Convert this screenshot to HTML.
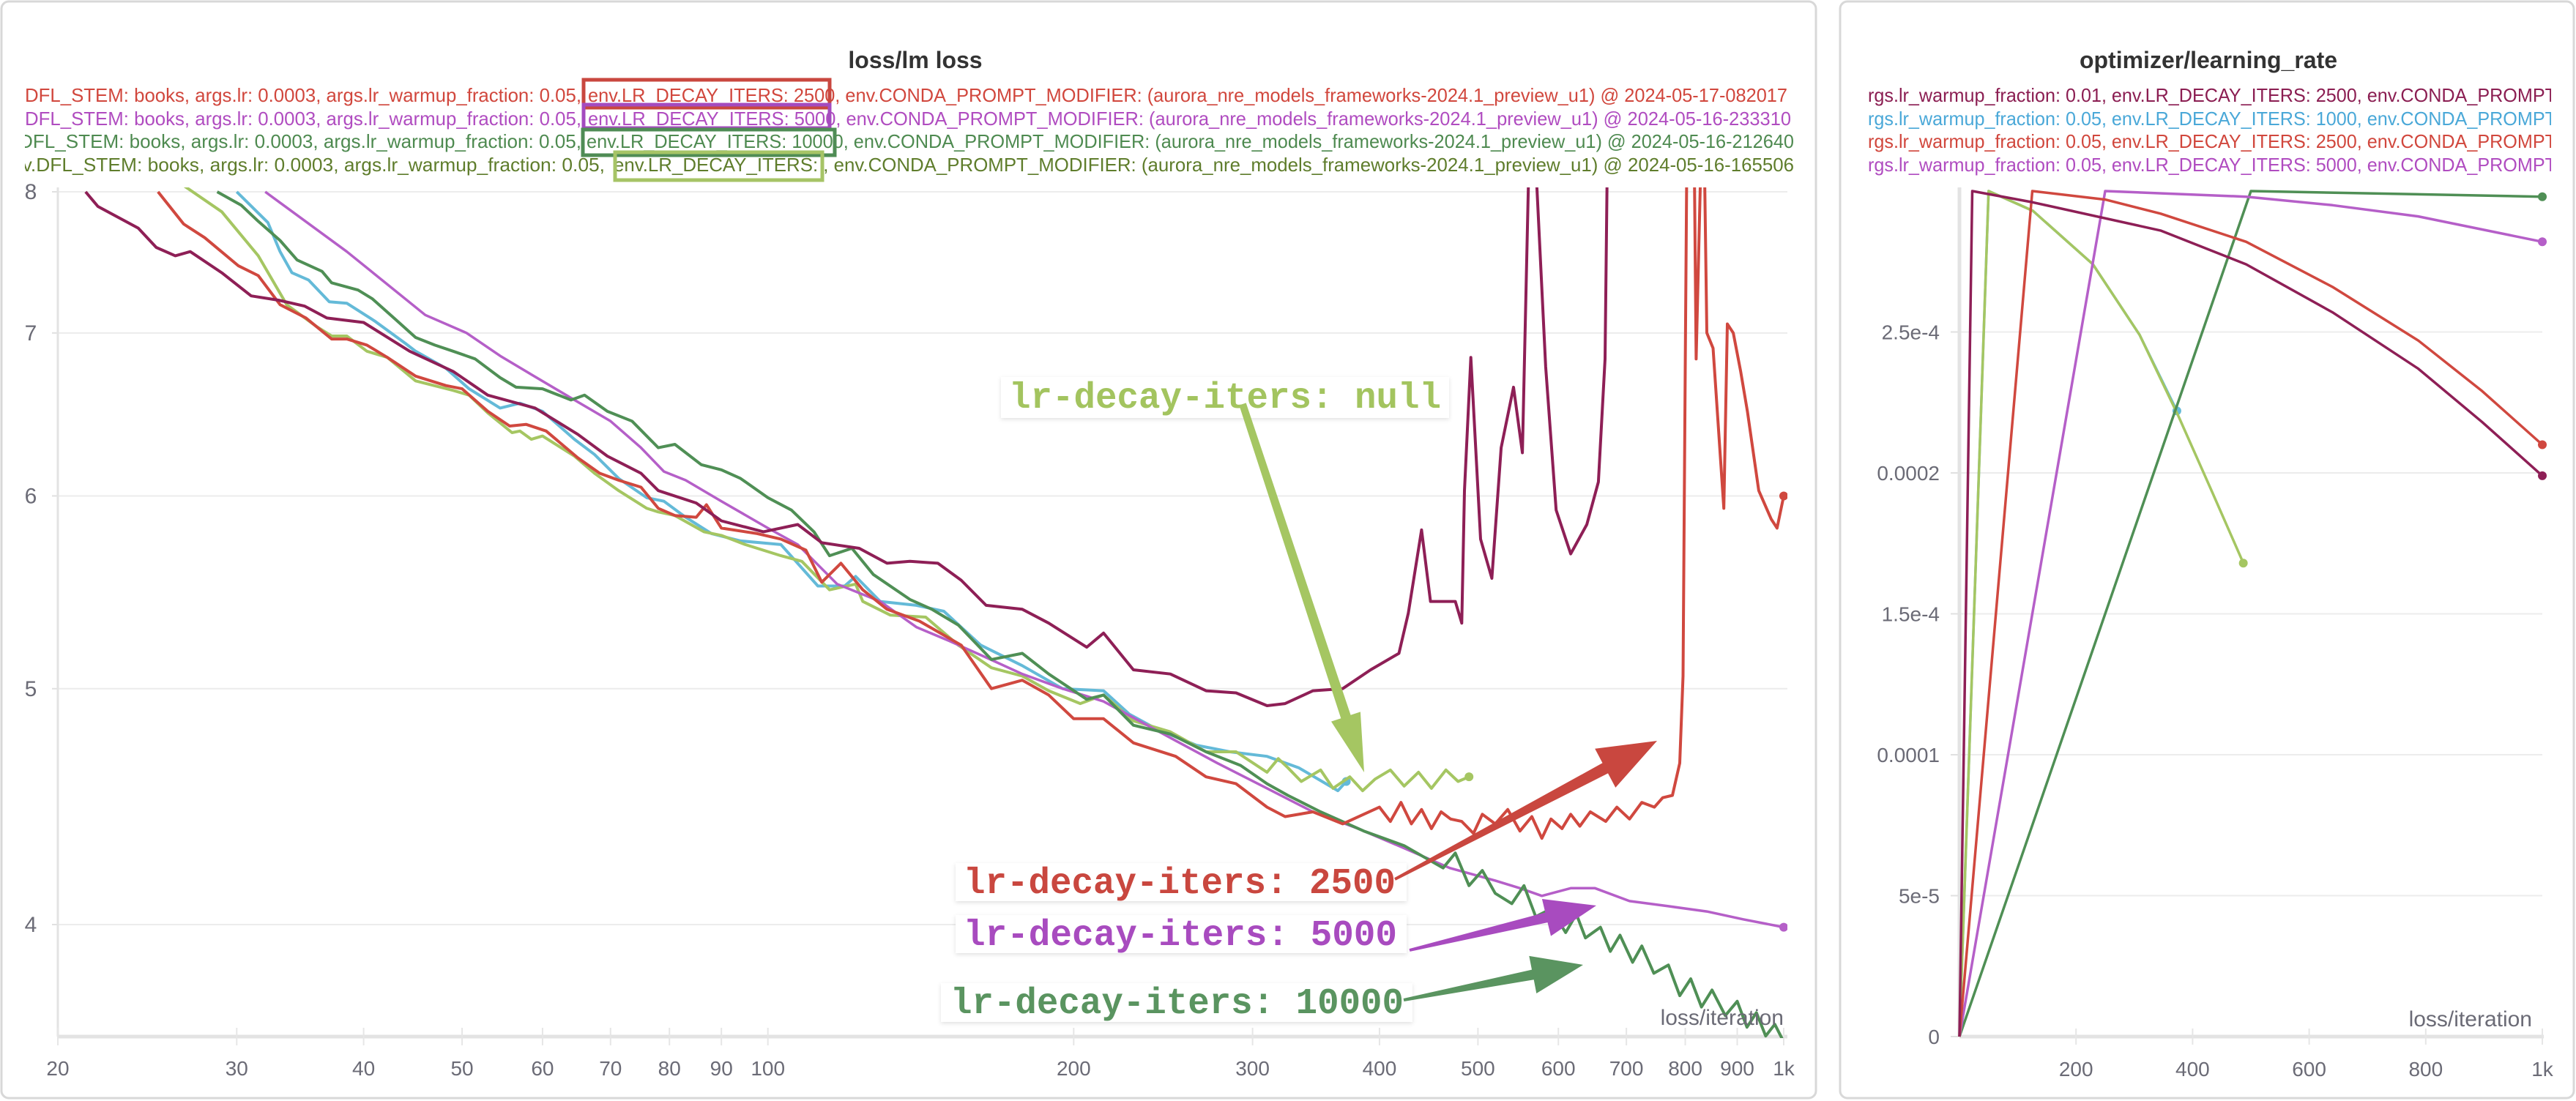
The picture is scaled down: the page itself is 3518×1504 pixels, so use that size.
<!DOCTYPE html>
<html><head><meta charset="utf-8">
<style>
html,body{margin:0;padding:0;background:#fff;}
svg{display:block;font-family:"Liberation Sans",sans-serif;}
</style></head>
<body>
<svg id="root" width="3518" height="1504" viewBox="0 0 3518 1504" xmlns="http://www.w3.org/2000/svg">
<defs>
<clipPath id="clipL"><rect x="79" y="256" width="2362" height="1162"/></clipPath>
<clipPath id="clipLeg"><rect x="34" y="100" width="2420" height="150"/></clipPath>
<clipPath id="clipLegR"><rect x="2551" y="100" width="933" height="150"/></clipPath>
<filter id="sh" x="-10%" y="-30%" width="120%" height="160%"><feDropShadow dx="0" dy="2" stdDeviation="3" flood-color="#000" flood-opacity="0.12"/></filter>
</defs>
<rect x="2" y="2" width="2478" height="1498" rx="10" fill="#fff" stroke="#d8d8d8" stroke-width="3"/>
<rect x="2513" y="2" width="1002" height="1498" rx="10" fill="#fff" stroke="#d8d8d8" stroke-width="3"/>

<text x="1250" y="93" text-anchor="middle" font-size="32" font-weight="bold" fill="#333">loss/lm loss</text>
<text x="3016" y="93" text-anchor="middle" font-size="32" font-weight="bold" fill="#333">optimizer/learning_rate</text>

<g clip-path="url(#clipLeg)" font-size="26">
<text x="34" y="139" fill="#d1473d" textLength="760" lengthAdjust="spacingAndGlyphs">DFL_STEM: books, args.lr: 0.0003, args.lr_warmup_fraction: 0.05,</text>
<text x="803" y="139" fill="#d1473d" textLength="1638" lengthAdjust="spacingAndGlyphs">env.LR_DECAY_ITERS: 2500, env.CONDA_PROMPT_MODIFIER: (aurora_nre_models_frameworks-2024.1_preview_u1) @ 2024-05-17-082017</text>
<text x="34" y="171" fill="#b04cc0" textLength="760" lengthAdjust="spacingAndGlyphs">DFL_STEM: books, args.lr: 0.0003, args.lr_warmup_fraction: 0.05,</text>
<text x="803" y="171" fill="#b04cc0" textLength="1643" lengthAdjust="spacingAndGlyphs">env.LR_DECAY_ITERS: 5000, env.CONDA_PROMPT_MODIFIER: (aurora_nre_models_frameworks-2024.1_preview_u1) @ 2024-05-16-233310</text>
<text x="26" y="202" fill="#4e8a50" textLength="768" lengthAdjust="spacingAndGlyphs">DFL_STEM: books, args.lr: 0.0003, args.lr_warmup_fraction: 0.05,</text>
<text x="801" y="202" fill="#4e8a50" textLength="1649" lengthAdjust="spacingAndGlyphs">env.LR_DECAY_ITERS: 10000, env.CONDA_PROMPT_MODIFIER: (aurora_nre_models_frameworks-2024.1_preview_u1) @ 2024-05-16-212640</text>
<text x="16" y="234" fill="#5f7d2c" textLength="810" lengthAdjust="spacingAndGlyphs">nv.DFL_STEM: books, args.lr: 0.0003, args.lr_warmup_fraction: 0.05,</text>
<text x="838" y="234" fill="#5f7d2c" textLength="1612" lengthAdjust="spacingAndGlyphs">env.LR_DECAY_ITERS: , env.CONDA_PROMPT_MODIFIER: (aurora_nre_models_frameworks-2024.1_preview_u1) @ 2024-05-16-165506</text>
</g>
<g fill="none" stroke-width="5">
<rect x="797" y="109" width="336" height="38" stroke="#c9473f"/>
<rect x="797" y="143" width="336" height="32" stroke="#a44bbf"/>
<rect x="796" y="177" width="344" height="35" stroke="#4f8c55"/>
<rect x="840" y="208" width="283" height="38" stroke="#a6c466"/>
</g>

<g clip-path="url(#clipLegR)" font-size="26">
<text x="2551" y="139" fill="#8b1e52" textLength="940" lengthAdjust="spacingAndGlyphs">rgs.lr_warmup_fraction: 0.01, env.LR_DECAY_ITERS: 2500, env.CONDA_PROMPT</text>
<text x="2551" y="171" fill="#4aa8d8" textLength="940" lengthAdjust="spacingAndGlyphs">rgs.lr_warmup_fraction: 0.05, env.LR_DECAY_ITERS: 1000, env.CONDA_PROMPT</text>
<text x="2551" y="202" fill="#d1473d" textLength="940" lengthAdjust="spacingAndGlyphs">rgs.lr_warmup_fraction: 0.05, env.LR_DECAY_ITERS: 2500, env.CONDA_PROMPT</text>
<text x="2551" y="234" fill="#b04cc0" textLength="940" lengthAdjust="spacingAndGlyphs">rgs.lr_warmup_fraction: 0.05, env.LR_DECAY_ITERS: 5000, env.CONDA_PROMPT</text>
</g>

<g id="gridL"></g>
<g id="axesL"></g>
<g id="seriesL" clip-path="url(#clipL)"></g>
<g id="gridR"></g>
<g id="seriesR"></g>
<g id="annot"></g>
<text x="2436" y="1400" text-anchor="end" font-size="30" fill="#6b6b76">loss/iteration</text>
<text x="3458" y="1402" text-anchor="end" font-size="30" fill="#6b6b76">loss/iteration</text>
</svg>
<script>
// ---------- loss/lm loss data ----------
const lossMaroonIter = [21.3,21.9,24,25,26.1,27,29,31,33,35,36.8,40,44.4,49,53,59,65,69.5,75,78,85,90,99,107,113,123,131,138,147,155,164,178,189,206,214,229,249,270,289,310,323,344,368,392,418,427,440,449,475,482,485,492,503,516,527,542,553,564,583,597,617,640,657,667,672];
const lossMaroonVal = [8.0,7.89,7.73,7.59,7.53,7.56,7.41,7.25,7.22,7.18,7.1,7.07,6.88,6.75,6.6,6.52,6.36,6.23,6.13,6.03,5.96,5.86,5.8,5.84,5.74,5.71,5.63,5.64,5.63,5.54,5.41,5.39,5.32,5.2,5.27,5.09,5.07,4.99,4.98,4.92,4.93,4.99,5.0,5.09,5.17,5.37,5.81,5.43,5.43,5.32,6.03,6.84,5.76,5.55,6.28,6.65,6.25,9,6.78,5.92,5.68,5.84,6.08,6.83,9];
const lossRedIter = [25.1,26.6,27.9,30.1,31.5,33.1,35.1,37.2,38.5,40.3,42.2,45,48.2,50,53,55.7,57.8,60.5,65,68.3,71.3,75,78,81,85,87,90,97.6,103,109,113,118,124,131,141,155,166,178,189,200,214,229,252,270,289,310,323,344,368,400,410,420,430,440,450,460,470,482,495,505,520,535,550,565,578,590,605,617,630,645,668,685,705,725,746,760,777,790,796,800,804,815,820,833,840,852,873,880,892,907,921,945,972,985,1000];
const lossRedVal = [8.0,7.76,7.66,7.46,7.39,7.19,7.1,6.96,6.96,6.92,6.84,6.72,6.66,6.64,6.5,6.41,6.42,6.38,6.22,6.13,6.09,6.05,5.93,5.89,5.88,5.95,5.82,5.79,5.76,5.7,5.53,5.63,5.49,5.39,5.33,5.21,5.0,5.04,4.97,4.86,4.86,4.75,4.69,4.6,4.57,4.47,4.43,4.45,4.4,4.47,4.41,4.49,4.40,4.46,4.38,4.45,4.42,4.41,4.36,4.44,4.40,4.46,4.37,4.43,4.34,4.42,4.38,4.44,4.39,4.45,4.41,4.47,4.42,4.49,4.47,4.51,4.52,4.66,5.06,6.83,9,9,6.83,9,7.0,6.9,5.93,7.06,7.0,6.75,6.5,6.03,5.87,5.82,6.0];
const lossNullIter = [26,29,31.5,33.6,36,37.2,38.5,40.3,42.2,45,49,50.8,53,56,57,58.5,60,64.5,67.5,71.3,76,78,81,86.5,90,95,103,108,115,122,124,132,143,154,166,178,189,203,214,229,249,270,289,310,318,325,335,350,360,374,385,396,410,423,437,450,465,478,490];
const lossNullVal = [8.1,7.85,7.53,7.19,7.04,6.98,6.98,6.88,6.84,6.69,6.63,6.6,6.49,6.37,6.38,6.33,6.35,6.23,6.13,6.03,5.93,5.91,5.89,5.8,5.78,5.73,5.67,5.64,5.49,5.52,5.43,5.36,5.35,5.21,5.1,5.06,4.99,4.93,4.97,4.85,4.8,4.71,4.71,4.62,4.68,4.64,4.58,4.63,4.55,4.6,4.54,4.59,4.63,4.56,4.62,4.55,4.63,4.58,4.6];
const lossBlueIter = [30,32.2,33.1,34,35.3,37,38.5,41,44,45,48.2,50.8,54.5,57,60,64.5,67.5,71.3,76,79,83,88,94,103,112,119,122,129,140,149,162,178,195,214,227,242,264,285,310,333,364,371];
const lossBlueVal = [8.0,7.77,7.56,7.41,7.36,7.21,7.2,7.08,6.93,6.88,6.77,6.64,6.52,6.55,6.5,6.33,6.24,6.1,5.99,5.97,5.88,5.79,5.75,5.73,5.51,5.51,5.56,5.43,5.41,5.38,5.21,5.11,5.0,4.99,4.88,4.81,4.74,4.71,4.69,4.64,4.54,4.58];
const lossGreenIter = [28.7,30.3,31.5,33.1,34.4,36.4,37.2,39.5,40.8,43,45,47,49,51.5,54.5,56.5,60,64,66,69.5,73.5,78,81,86,90,94,100,105.5,111,115,121,127,138,145,154,166,178,189,206,214,229,249,270,292,310,325,350,386,423,462,475,490,505,520,540,555,570,590,610,625,638,660,675,690,710,725,745,770,790,810,830,850,876,900,920,940,960,980,1000];
const lossGreenVal = [8.0,7.9,7.78,7.64,7.5,7.42,7.34,7.29,7.23,7.09,6.97,6.92,6.88,6.83,6.71,6.65,6.64,6.57,6.6,6.5,6.44,6.28,6.3,6.18,6.15,6.1,5.99,5.92,5.8,5.67,5.71,5.57,5.44,5.39,5.31,5.14,5.17,5.07,4.95,4.97,4.83,4.79,4.71,4.65,4.57,4.52,4.45,4.37,4.31,4.22,4.28,4.15,4.21,4.12,4.08,4.15,4.03,4.06,3.97,4.04,3.95,3.99,3.9,3.96,3.86,3.92,3.82,3.85,3.74,3.8,3.7,3.76,3.67,3.72,3.63,3.68,3.6,3.64,3.58];
const lossPurpleIter = [32,38.5,46,50.5,54.5,58.5,64.5,70,75,79,83,90,100,107,117,129,140,151,164,178,195,214,232,252,277,310,344,381,423,469,520,550,578,617,652,705,770,840,912,1000];
const lossPurpleVal = [8.0,7.56,7.12,7.0,6.85,6.73,6.57,6.44,6.28,6.14,6.09,5.97,5.82,5.73,5.52,5.43,5.3,5.23,5.15,5.07,5.0,4.94,4.85,4.76,4.66,4.55,4.45,4.38,4.3,4.22,4.17,4.14,4.11,4.14,4.14,4.09,4.07,4.05,4.02,3.99];
const lossYTicks = [8,7,6,5,4];
const lossXTicks = [20,30,40,50,60,70,80,90,100,200,300,400,500,600,700,800,900,1000];
const lossXTickLabels = ["20","30","40","50","60","70","80","90","100","200","300","400","500","600","700","800","900","1k"];

// ---------- learning rate data ----------
const lrMaroonIter = [0,22,126,345,492,640,787,897,1000];
const lrMaroonVal = [0,3e-4,2.96e-4,2.86e-4,2.74e-4,2.57e-4,2.37e-4,2.18e-4,1.99e-4];
const lrRedIter = [0,125,250,345,492,640,787,897,1000];
const lrRedVal = [0,3e-4,2.97e-4,2.92e-4,2.82e-4,2.66e-4,2.47e-4,2.29e-4,2.1e-4];
const lrPurpleIter = [0,250,492,640,787,1000];
const lrPurpleVal = [0,3e-4,2.98e-4,2.95e-4,2.91e-4,2.82e-4];
const lrGreenIter = [0,500,1000];
const lrGreenVal = [0,3e-4,2.98e-4];
const lrNullIter = [0,50,126,229,309,376,434,487];
const lrNullVal = [0,3e-4,2.93e-4,2.74e-4,2.49e-4,2.2e-4,1.93e-4,1.68e-4];
const lrBlueIter = [0,50,126,229,309,373];
const lrBlueVal = [0,3e-4,2.93e-4,2.74e-4,2.49e-4,2.22e-4];
const lrYTicks = [0,5e-5,1e-4,1.5e-4,2e-4,2.5e-4];
const lrYTickLabels = ["0","5e-5","0.0001","1.5e-4","0.0002","2.5e-4"];
const lrXTicks = [200,400,600,800,1000];
const lrXTickLabels = ["200","400","600","800","1k"];

const NS = "http://www.w3.org/2000/svg";
function mk(tag, attrs, parent){const e=document.createElementNS(NS,tag);for(const k in attrs)e.setAttribute(k,attrs[k]);parent.appendChild(e);return e;}

// axis functions
const LX0=79, LX1=2436, LY8=262, LPX=1001, LBOT=1416;
function xL(it){return LX0+(Math.log10(it)-Math.log10(20))/(Math.log10(1000)-Math.log10(20))*(LX1-LX0);}
function yL(v){return LY8+(Math.log(8)-Math.log(v))/Math.LN2*LPX;}
const RX0=2676, RX1=3472, RBOT=1416;
function xR(it){return RX0+it/1000*(RX1-RX0);}
function yR(v){return RBOT-v/1e-4*385;}

const gridL=document.getElementById('gridL'), axesL=document.getElementById('axesL'), seriesL=document.getElementById('seriesL');
const gridR=document.getElementById('gridR'), seriesR=document.getElementById('seriesR'), annot=document.getElementById('annot');

// left grid & axes
lossYTicks.forEach(function(t){
  const y=yL(t);
  const g=mk('line',{x1:LX0,x2:2441,y1:y,y2:y,stroke:'#ececec','stroke-width':2},gridL);
  
  
  const tk=mk('line',{x1:LX0-8,x2:LX0,y1:y,y2:y,stroke:'#e0e0e0','stroke-width':2},gridL);
  
  
  const tx=mk('text',{x:42,y:y+10,'text-anchor':'middle','font-size':30,fill:'#6b6b76'},axesL);
  tx.textContent=String(t);
  
  
});
let ax=mk('line',{x1:LX0,x2:LX0,y1:256,y2:LBOT,stroke:'#e3e3e3','stroke-width':3},axesL);


ax=mk('line',{x1:LX0,x2:2441,y1:LBOT,y2:LBOT,stroke:'#e3e3e3','stroke-width':5},axesL);


lossXTicks.forEach(function(t,i){
  const x=xL(t);
  const tk=mk('line',{x1:x,x2:x,y1:1404,y2:1428,stroke:'#e6e6e6','stroke-width':2},axesL);
  
  
  const tx=mk('text',{x:x,y:1469,'text-anchor':'middle','font-size':28,fill:'#6b6b76'},axesL);
  tx.textContent=lossXTickLabels[i];
  
  
});

function lineL(iters, vals, color, name, dot, w){
  let d='';
  for(let i=0;i<iters.length;i++){d+=(i?'L':'M')+xL(iters[i]).toFixed(1)+' '+yL(vals[i]).toFixed(1);}
  const p=mk('path',{d:d,fill:'none',stroke:color,'stroke-width':w||4,'stroke-linejoin':'round'},seriesL);
  
  
  if(dot){const n=iters.length-1;
    const c=mk('circle',{cx:xL(iters[n]),cy:yL(vals[n]),r:6,fill:color},seriesL);
    
    }
}
lineL(lossBlueIter,lossBlueVal,'#64bad8','loss-line-decay-1000',true);
lineL(lossNullIter,lossNullVal,'#a5c662','loss-line-decay-null',true);
lineL(lossPurpleIter,lossPurpleVal,'#b55fc8','loss-line-decay-5000',true,3.5);
lineL(lossGreenIter,lossGreenVal,'#4f8f55','loss-line-decay-10000',false);
lineL(lossRedIter,lossRedVal,'#d0483f','loss-line-decay-2500',true);
lineL(lossMaroonIter,lossMaroonVal,'#8e1f56','loss-line-warmup-0.01',false);

// right grid & axes
lrYTicks.forEach(function(t,i){
  const y=yR(t);
  if(i>0){const g=mk('line',{x1:RX0,x2:RX1,y1:y,y2:y,stroke:'#ececec','stroke-width':2},gridR);
  
  }
  const tk=mk('line',{x1:RX0-12,x2:RX0,y1:y,y2:y,stroke:'#e0e0e0','stroke-width':2},gridR);
  
  
  const tx=mk('text',{x:2649,y:y+10,'text-anchor':'end','font-size':28,fill:'#6b6b76'},gridR);
  tx.textContent=lrYTickLabels[i];
  
  
});
ax=mk('line',{x1:RX0,x2:RX0,y1:256,y2:RBOT,stroke:'#e3e3e3','stroke-width':5},gridR);


ax=mk('line',{x1:RX0,x2:RX1+2,y1:RBOT,y2:RBOT,stroke:'#e3e3e3','stroke-width':5},gridR);


lrXTicks.forEach(function(t,i){
  const x=xR(t);
  const tk=mk('line',{x1:x,x2:x,y1:1405,y2:1427,stroke:'#e6e6e6','stroke-width':2},gridR);
  
  
  const tx=mk('text',{x:x,y:1470,'text-anchor':'middle','font-size':28,fill:'#6b6b76'},gridR);
  tx.textContent=lrXTickLabels[i];
  
  
});
function lineR(iters, vals, color, name){
  let d='';
  for(let i=0;i<iters.length;i++){d+=(i?'L':'M')+xR(iters[i]).toFixed(1)+' '+yR(vals[i]).toFixed(1);}
  const p=mk('path',{d:d,fill:'none',stroke:color,'stroke-width':3.5,'stroke-linejoin':'round'},seriesR);
  
  
  const n=iters.length-1;
  const c=mk('circle',{cx:xR(iters[n]),cy:yR(vals[n]),r:6,fill:color},seriesR);
  
  
}
lineR(lrBlueIter,lrBlueVal,'#64bad8','lr-line-decay-1000');
lineR(lrNullIter,lrNullVal,'#a5c662','lr-line-decay-null');
lineR(lrGreenIter,lrGreenVal,'#4f8f55','lr-line-decay-10000');
lineR(lrPurpleIter,lrPurpleVal,'#b55fc8','lr-line-decay-5000');
lineR(lrRedIter,lrRedVal,'#d0483f','lr-line-decay-2500');
lineR(lrMaroonIter,lrMaroonVal,'#8e1f56','lr-line-warmup-0.01');

// annotations
function arrow(x1,y1,x2,y2,color,w0,w1,hl,hw,name){
  const dx=x2-x1, dy=y2-y1, L=Math.hypot(dx,dy), ux=dx/L, uy=dy/L, px=-uy, py=ux;
  const bx=x2-ux*hl, by=y2-uy*hl;
  const pts=[[x1+px*w0/2,y1+py*w0/2],[bx+px*w1/2,by+py*w1/2],[bx+px*hw/2,by+py*hw/2],[x2,y2],[bx-px*hw/2,by-py*hw/2],[bx-px*w1/2,by-py*w1/2],[x1-px*w0/2,y1-py*w0/2]];
  const p=mk('polygon',{points:pts.map(function(q){return q[0].toFixed(1)+','+q[1].toFixed(1);}).join(' '),fill:color},annot);
  
  
}
function label(bx,by,bw,bh,tx,ty,tw,txt,color,name){
  const r=mk('rect',{x:bx,y:by,width:bw,height:bh,fill:'#fff',filter:'url(#sh)'},annot);
  
  
  const t=mk('text',{x:tx,y:ty,'font-family':'"Liberation Mono",monospace','font-weight':'bold','font-size':50,fill:color,textLength:tw,lengthAdjust:'spacingAndGlyphs'},annot);
  t.textContent=txt;
  
  
}
label(1367,515,612,56,1378,557,590,'lr-decay-iters: null','#a3c45f','annotation-null');
arrow(1697,552,1863,1055,'#a5c662',10,14,80,42,'arrow-null');
label(1305,1179,616,52,1316,1220,590,'lr-decay-iters: 2500','#c9473f','annotation-2500');
label(1305,1250,616,52,1316,1291,592,'lr-decay-iters: 5000','#a84bbf','annotation-5000');
label(1285,1343,644,53,1298,1384,619,'lr-decay-iters: 10000','#5a9460','annotation-10000');
arrow(1905,1201,2263,1012,'#c9473f',4,16,80,60,'arrow-2500');
arrow(1925,1298,2180,1237,'#a84bbf',4,14,70,52,'arrow-5000');
arrow(1917,1366,2162,1318,'#5a9460',4,14,70,52,'arrow-10000');
</script>
</body></html>
